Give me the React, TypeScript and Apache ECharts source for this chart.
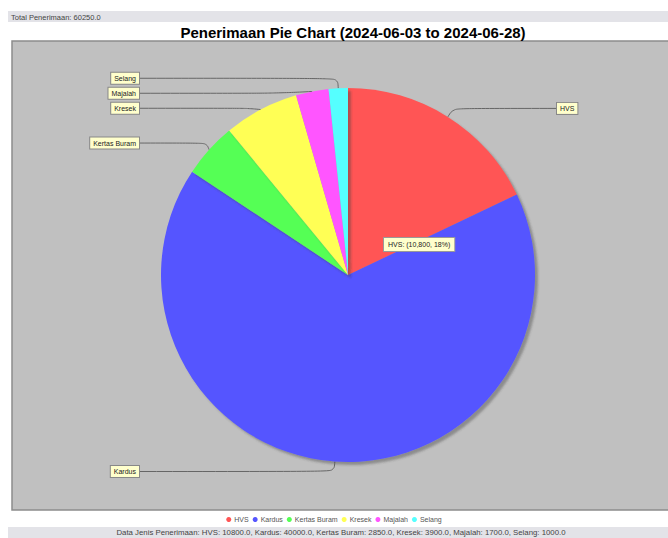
import React, { useEffect, useRef } from 'react';
import * as echarts from 'echarts';

const categories = ['HVS', 'Kardus', 'Kertas Buram', 'Kresek', 'Majalah', 'Selang'];
const values = [10800, 40000, 2850, 3900, 1700, 1000];
const colors = ['#ff5555', '#5555ff', '#55ff55', '#ffff55', '#ff55ff', '#55ffff'];
const titleText = 'Penerimaan Pie Chart (2024-06-03 to 2024-06-28)';
const totalLabel = 'Total Penerimaan';
const dataLabel = 'Data Jenis Penerimaan';

export default function App() {
  const ref = useRef<HTMLDivElement>(null);
  useEffect(() => {
    const chart = echarts.init(ref.current!, null, { renderer: 'svg' });
    const total = values.reduce((a, b) => a + b, 0);
    const CX = 348;
    const CY = 275;
    const R = 187;
    const OFF = 209;
    const fmt = (v: number) => v.toFixed(1);
    const dataLine = dataLabel + ': ' + categories.map((c, i) => `${c}: ${fmt(values[i])}`).join(', ');
    const tipText = `${categories[0]}: (${values[0].toLocaleString('en-US')}, ${Math.round((values[0] / total) * 100)}%)`;
    const font = 'Liberation Sans, Arial, sans-serif';
    chart.setOption({
      animation: false,
      backgroundColor: '#ffffff',
      title: {
        text: titleText,
        left: CX,
        textAlign: 'center',
        top: 20,
        textStyle: { fontSize: 15, fontWeight: 'bold', color: '#000', fontFamily: font },
      },
      legend: {
        bottom: 10,
        left: 'center',
        icon: 'circle',
        itemWidth: 5,
        itemHeight: 5,
        itemGap: 4,
        textStyle: { fontSize: 7, color: '#555', fontFamily: font, padding: [0, 0, 0, -2] },
        data: categories,
      },
      graphic: [
        { type: 'rect', z: -10, shape: { x: 8, y: 11, width: 660, height: 11 }, style: { fill: '#e3e3e8' } },
        { type: 'text', z: -9, x: 11, y: 13, style: { text: `${totalLabel}: ${fmt(total)}`, fontSize: 7.5, fill: '#444', fontFamily: font } },
        { type: 'rect', z: -10, shape: { x: 12, y: 41, width: 660, height: 469 }, style: { fill: '#c0c0c0', stroke: '#8c8c8c', lineWidth: 1.5 } },
        { type: 'rect', z: -10, shape: { x: 8, y: 527, width: 660, height: 11 }, style: { fill: '#e3e3e8' } },
        { type: 'text', z: -9, x: 341, y: 528.5, style: { text: dataLine, fontSize: 7.8, fill: '#444', align: 'center', fontFamily: font } },
        {
          type: 'text', z: 100, x: 384, y: 238,
          style: {
            text: tipText, fontSize: 7, fill: '#222', fontFamily: font,
            backgroundColor: '#ffffcc', borderColor: '#999', borderWidth: 1, padding: [3, 4],
          },
        },
      ],
      series: [
        {
          type: 'pie',
          center: [CX, CY],
          radius: R,
          startAngle: 90,
          clockwise: true,
          color: colors,
          itemStyle: {
            borderWidth: 0,
            shadowColor: 'rgba(60,60,60,0.4)',
            shadowOffsetX: 3,
            shadowOffsetY: 3,
            shadowBlur: 2,
          },
          label: {
            show: true,
            position: 'outside',
            formatter: '{b}',
            fontSize: 7,
            color: '#222',
            fontFamily: font,
            backgroundColor: '#ffffcc',
            borderColor: '#888',
            borderWidth: 1,
            padding: [2, 3],
          },
          labelLine: {
            show: true,
            length: 10,
            length2: 30,
            smooth: 0.4,
            lineStyle: { color: '#666', width: 1 },
          },
          labelLayout: (params: any) => {
            const pts = params.labelLinePoints;
            if (!pts) return {};
            const left = pts[2][0] < CX;
            const x = left ? CX - OFF : CX + OFF;
            const y = params.labelRect.y + params.labelRect.height / 2;
            return {
              x,
              y,
              align: left ? 'right' : 'left',
              verticalAlign: 'middle',
              labelLinePoints: [pts[0], pts[1], [x, y]],
            };
          },
          emphasis: { disabled: true },
          data: categories.map((name, i) => ({ name, value: values[i] })),
        },
      ],
    });
    return () => chart.dispose();
  }, []);
  return <div ref={ref} style={{ position: 'absolute', left: 0, top: 0, width: 668, height: 538 }} />;
}
